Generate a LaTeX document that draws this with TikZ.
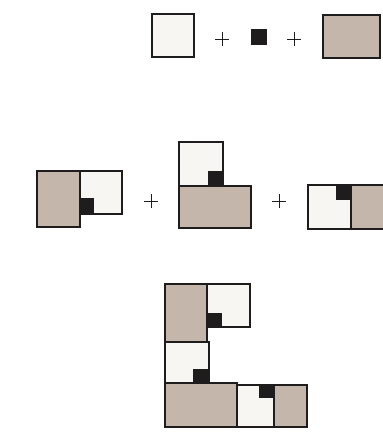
\documentclass[tikz,border=0pt]{standalone}
\definecolor{tanfill}{RGB}{196,182,170}
\definecolor{whitefill}{RGB}{248,246,242}
\definecolor{inkc}{RGB}{30,28,28}
\tikzset{
  tanbox/.style={fill=tanfill,draw=inkc,line width=1.1pt},
  whitebox/.style={fill=whitefill,draw=inkc,line width=1.1pt},
  blackbox/.style={fill=inkc,draw=inkc,line width=0.6pt},
  plusline/.style={draw=inkc,line width=0.8pt}
}
\newcommand{\plussign}[2]{\draw[plusline] (#1-7,#2) -- (#1+7,#2); \draw[plusline] (#1,#2-7) -- (#1,#2+7);}
\begin{document}
\begin{tikzpicture}[x=1pt,y=-1pt]
\useasboundingbox (0,0) rectangle (382,435);
% top row
\draw[whitebox] (152,14) rectangle (194,57);
\plussign{222}{39}
\draw[blackbox] (251,29) rectangle (266,44);
\plussign{294}{39}
\draw[tanbox] (323,15) rectangle (380,58);
% middle row, first group
\draw[tanbox] (37,171) rectangle (80,227);
\draw[whitebox] (80,171) rectangle (122,214);
\draw[blackbox] (80,198) rectangle (94,213);
\draw[whitebox] (80,171) rectangle (122,214);
\fill[inkc] (80,198) rectangle (94,214);
\plussign{151}{201}
% middle row, second group
\draw[whitebox] (179,142) rectangle (223,186);
\fill[inkc] (208,171) rectangle (223,186);
\draw[tanbox] (179,186) rectangle (251,228);
\plussign{279}{201}
% middle row, third group
\draw[whitebox] (308,185) rectangle (351,229);
\fill[inkc] (336,185) rectangle (351,200);
\draw[tanbox] (351,185) rectangle (384,229);
% bottom group
\draw[tanbox] (165,284) rectangle (207,342);
\draw[whitebox] (207,284) rectangle (250,327);
\fill[inkc] (207,313) rectangle (222,327);
\draw[whitebox] (165,342) rectangle (209,383);
\fill[inkc] (193,369) rectangle (209,383);
\draw[tanbox] (165,383) rectangle (237,427);
\draw[whitebox] (237,385) rectangle (274,427);
\fill[inkc] (259,385) rectangle (274,398);
\draw[tanbox] (274,385) rectangle (307,427);
\end{tikzpicture}
\end{document}
